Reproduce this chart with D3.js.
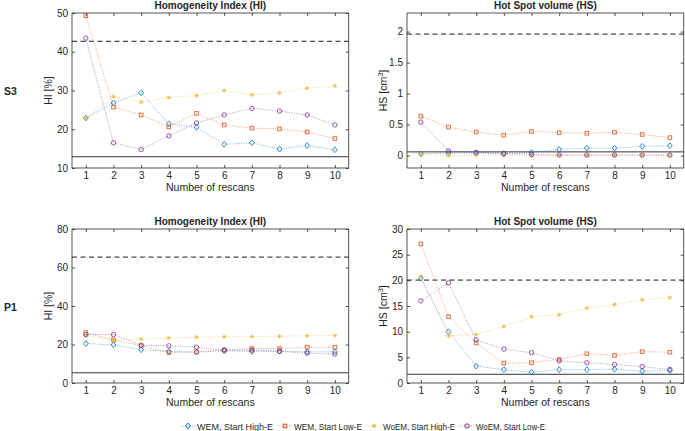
<!DOCTYPE html>
<html><head><meta charset="utf-8">
<script src="https://cdn.jsdelivr.net/npm/d3@7"></script>
<style>
body{margin:0;background:#fff;}
text{font-family:"Liberation Sans",Arial,Helvetica,sans-serif;fill:#262626;}
</style></head>
<body><svg id="c" width="685" height="431"></svg>
<script>
const rescans = [1,2,3,4,5,6,7,8,9,10];
const seriesNames = ["WEM, Start High-E","WEM, Start Low-E","WoEM, Start High-E","WoEM, Start Low-E"];
const seriesColors = ["#0072BD","#D95319","#EDB120","#7E2F8E"];
const seriesMarkers = ["diamond","square","star","circle"];

// S3 - Homogeneity Index
const s3HI_wemHigh  = [22.9,26.8,29.4,21.4,20.5,16.1,16.5,14.9,15.8,14.7];
const s3HI_wemLow   = [49.3,25.7,23.7,20.6,24.1,21.1,20.3,20.1,19.3,17.6];
const s3HI_woemHigh = [22.8,28.4,27.0,28.2,28.7,30.0,28.9,29.4,30.6,31.2];
const s3HI_woemLow  = [43.5,16.5,14.75,18.3,21.6,23.7,25.4,24.7,23.7,21.1];
// S3 - Hot Spot volume
const s3HS_wemHigh  = [0.027,0.04,0.04,0.03,0.05,0.10,0.12,0.12,0.15,0.16];
const s3HS_wemLow   = [0.636,0.46,0.38,0.33,0.39,0.37,0.36,0.375,0.34,0.29];
const s3HS_woemHigh = [0.02,0.0,0.005,0.005,0.005,0.005,0.005,0.005,0.005,0.005];
const s3HS_woemLow  = [0.54,0.076,0.054,0.033,0.016,0.01,0.01,0.01,0.008,0.008];
// P1 - Homogeneity Index
const p1HI_wemHigh  = [20.5,19.8,17.3,16.5,16.0,16.7,16.4,16.6,16.2,16.2];
const p1HI_wemLow   = [26.2,22.4,19.3,15.8,16.2,17.2,17.9,17.9,18.6,18.6];
const p1HI_woemHigh = [24.5,22.4,22.8,23.4,23.8,24.0,24.1,24.3,24.5,24.7];
const p1HI_woemLow  = [25.2,25.2,19.6,19.3,18.6,17.1,17.1,16.4,15.5,15.0];
// P1 - Hot Spot volume
const p1HS_wemHigh  = [20.4,10.0,3.3,2.6,2.1,2.6,2.6,2.7,2.3,2.4];
const p1HS_wemLow   = [27.1,12.9,7.8,3.9,3.95,4.6,5.7,5.4,6.1,6.0];
const p1HS_woemHigh = [20.7,9.2,9.45,11.0,12.9,13.3,14.6,15.3,16.2,16.6];
const p1HS_woemLow  = [16.0,19.5,8.4,6.6,5.9,4.3,3.95,3.6,3.2,2.65];

const hiTicksS3 = [10,20,30,40,50];
const hsTicksS3 = [0,0.5,1,1.5,2];
const hiTicksP1 = [0,20,40,60,80];
const hsTicksP1 = [0,5,10,15,20,25,30];

const thresholds = {s3HI:[42.7,12.9], s3HS:[1.96,0.06], p1HI:[65.4,5.3], p1HS:[20.05,1.7]};

const panels = [
  {x0:72,x1:348.7,y0:13,y1:168,ylim:[10,50],ticks:hiTicksS3,title:"Homogeneity Index (HI)",ylab:"HI",lx:52,
   data:[s3HI_wemHigh,s3HI_wemLow,s3HI_woemHigh,s3HI_woemLow],th:thresholds.s3HI},
  {x0:407,x1:683.7,y0:13,y1:168,ylim:[-0.2,2.3],ticks:hsTicksS3,title:"Hot Spot volume (HS)",ylab:"HS",lx:387,
   data:[s3HS_wemHigh,s3HS_wemLow,s3HS_woemHigh,s3HS_woemLow],th:thresholds.s3HS},
  {x0:72,x1:348.7,y0:229,y1:383,ylim:[0,80],ticks:hiTicksP1,title:"Homogeneity Index (HI)",ylab:"HI",lx:52,
   data:[p1HI_wemHigh,p1HI_wemLow,p1HI_woemHigh,p1HI_woemLow],th:thresholds.p1HI},
  {x0:407,x1:683.7,y0:229,y1:383,ylim:[0,30],ticks:hsTicksP1,title:"Hot Spot volume (HS)",ylab:"HS",lx:387,
   data:[p1HS_wemHigh,p1HS_wemLow,p1HS_woemHigh,p1HS_woemLow],th:thresholds.p1HS}
];

const svg = d3.select("#c");
const axCol = "#262626";

function drawMarker(g, type, color, x, y){
  const s = 2.4;
  if(type==="diamond"){
    g.append("path").attr("d",`M${x},${y-s-0.5}L${x+s},${y}L${x},${y+s+0.5}L${x-s},${y}Z`)
     .attr("fill","none").attr("stroke",color).attr("stroke-width",1);
  } else if(type==="square"){
    g.append("rect").attr("x",x-1.8).attr("y",y-1.8).attr("width",3.6).attr("height",3.6)
     .attr("fill","none").attr("stroke",color).attr("stroke-width",1);
  } else if(type==="circle"){
    g.append("circle").attr("cx",x).attr("cy",y).attr("r",2.2)
     .attr("fill","none").attr("stroke",color).attr("stroke-width",1);
  } else if(type==="star"){
    const r=2.1;
    g.append("path").attr("d",`M${x-r},${y}L${x+r},${y}M${x},${y-r}L${x},${y+r}M${x-r*0.7},${y-r*0.7}L${x+r*0.7},${y+r*0.7}M${x-r*0.7},${y+r*0.7}L${x+r*0.7},${y-r*0.7}`)
     .attr("stroke",color).attr("stroke-width",0.9);
  }
}

panels.forEach(p=>{
  const x = d3.scaleLinear().domain([0.5,10.5]).range([p.x0,p.x1]);
  const y = d3.scaleLinear().domain(p.ylim).range([p.y1,p.y0]);
  const g = svg.append("g");
  const xa = g.append("g").attr("transform",`translate(0,${p.y1})`)
    .call(d3.axisBottom(x).tickValues(rescans).tickSize(-3).tickPadding(4));
  const xt = g.append("g").attr("transform",`translate(0,${p.y0})`)
    .call(d3.axisTop(x).tickValues(rescans).tickSize(-3).tickFormat(""));
  const ya = g.append("g").attr("transform",`translate(${p.x0},0)`)
    .call(d3.axisLeft(y).tickValues(p.ticks).tickSize(-3).tickPadding(4).tickFormat(d3.format("~g")));
  const yr = g.append("g").attr("transform",`translate(${p.x1},0)`)
    .call(d3.axisRight(y).tickValues(p.ticks).tickSize(-3).tickFormat(""));
  [xa,xt,ya,yr].forEach(a=>{
    a.select(".domain").attr("stroke",axCol).attr("stroke-width",0.8);
    a.selectAll(".tick line").attr("stroke",axCol).attr("stroke-width",0.8);
    a.selectAll("text").attr("font-size",10).attr("fill",axCol).attr("font-family","Liberation Sans, Arial, sans-serif");
  });
  xa.select(".domain").attr("d",`M${p.x0},0H${p.x1}`);
  xt.select(".domain").attr("d",`M${p.x0},0H${p.x1}`);
  ya.select(".domain").attr("d",`M0,${p.y0}V${p.y1}`);
  yr.select(".domain").attr("d",`M0,${p.y0}V${p.y1}`);

  g.append("line").attr("x1",p.x0).attr("x2",p.x1).attr("y1",y(p.th[0])).attr("y2",y(p.th[0]))
    .attr("stroke","#1a1a1a").attr("stroke-width",1).attr("stroke-dasharray","5,3.5");
  g.append("line").attr("x1",p.x0).attr("x2",p.x1).attr("y1",y(p.th[1])).attr("y2",y(p.th[1]))
    .attr("stroke","#333").attr("stroke-width",1);

  const line = d3.line().x((d,i)=>x(rescans[i])).y(d=>y(d));
  p.data.forEach((vals,si)=>{
    const col = seriesColors[si];
    g.append("path").attr("d",line(vals)).attr("fill","none").attr("stroke",col)
      .attr("stroke-width",0.9).attr("stroke-dasharray","1,1.4").attr("opacity",0.6);
    const mg = g.append("g").attr("opacity",0.8);
    vals.forEach((v,i)=>drawMarker(mg,seriesMarkers[si],col,x(rescans[i]),y(v)));
  });

  g.append("text").attr("x",(p.x0+p.x1)/2).attr("y",p.y0-4).attr("text-anchor","middle")
    .attr("font-size",10).attr("font-weight","bold").attr("fill","#000").text(p.title);
  g.append("text").attr("x",(p.x0+p.x1)/2).attr("y",p.y1+23).attr("text-anchor","middle")
    .attr("font-size",10.5).text("Number of rescans");
  const yl = g.append("text").attr("transform",`translate(${p.lx},${(p.y0+p.y1)/2}) rotate(-90)`)
    .attr("text-anchor","middle").attr("font-size",10.5);
  if(p.ylab==="HI"){ yl.text("HI [%]"); }
  else {
    yl.append("tspan").text("HS [cm");
    yl.append("tspan").attr("font-size",7.5).attr("dy",-4).text("3");
    yl.append("tspan").attr("dy",4).text("]");
  }
});

svg.append("text").attr("x",4).attr("y",95).attr("font-size",10.5).attr("font-weight","bold").attr("fill","#000").text("S3");
svg.append("text").attr("x",4).attr("y",311).attr("font-size",10.5).attr("font-weight","bold").attr("fill","#000").text("P1");

// legend
const legTextW = [76,68,72,69];
const ly = 426;
let lx = 180;
seriesNames.forEach((n,i)=>{
  const lg = svg.append("g").attr("transform",`translate(${lx},0)`);
  lg.append("line").attr("x1",0).attr("x2",16).attr("y1",ly).attr("y2",ly)
    .attr("stroke",seriesColors[i]).attr("stroke-width",0.9).attr("stroke-dasharray","1,1.4").attr("opacity",0.6);
  drawMarker(lg,seriesMarkers[i],seriesColors[i],8,ly);
  lg.append("text").attr("x",17).attr("y",ly+3.5).attr("font-size",9.5)
    .attr("textLength",legTextW[i]).attr("lengthAdjust","spacingAndGlyphs").text(n);
  lx += 17 + legTextW[i] + 4;
});
</script></body></html>
